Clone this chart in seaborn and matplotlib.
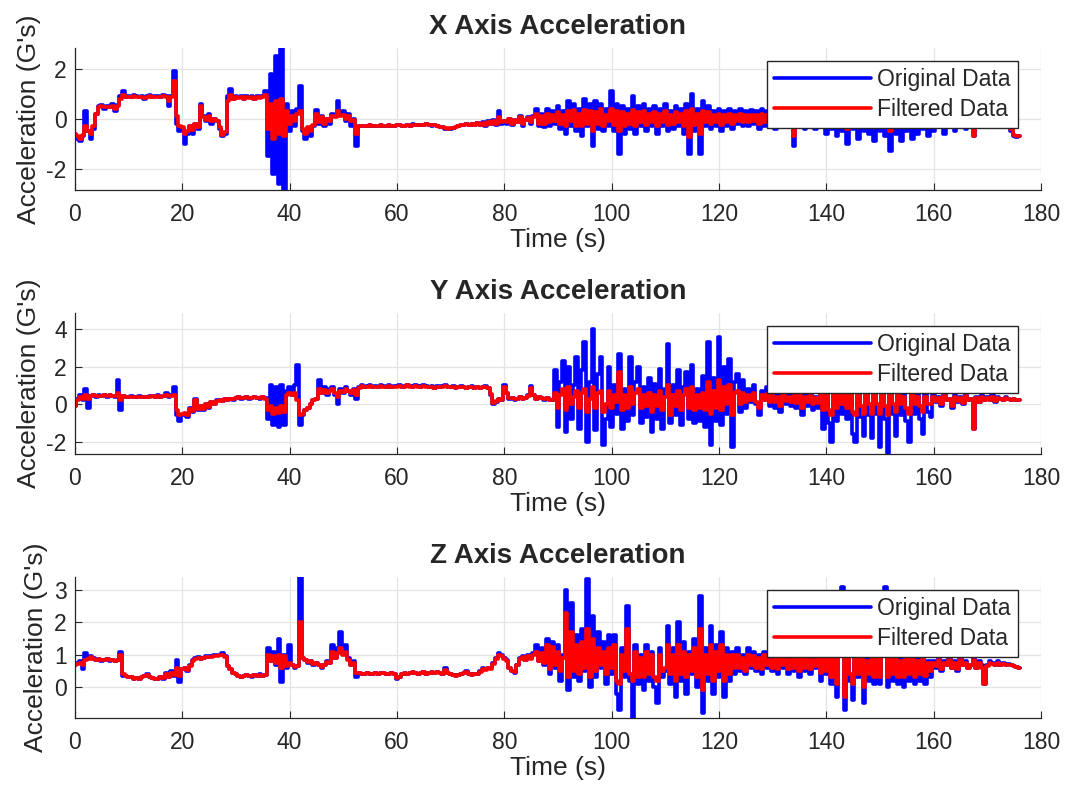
import numpy as np
import pandas as pd
import seaborn as sns
import matplotlib.pyplot as plt

# one reading every 0.5 s, 0 .. 176 s
time_s = np.arange(0, 176.01, 0.5)

# X axis (G's), one row per 10 s
x_orig = [
    -0.6, -0.8, -0.9, -0.7, 0.3, -0.5, -0.8, -0.4, 0.2, 0.5, 0.55, 0.4, 0.5, 0.45, 0.6, 0.3, 0.55, 0.9, 1.1, 0.85,
    0.9, 0.85, 0.95, 0.9, 0.85, 0.9, 0.8, 0.9, 0.95, 0.85, 0.9, 0.9, 0.85, 0.95, 0.9, 0.5, 0.9, 1.9, -0.2, -0.5,
    -0.4, -1.0, -0.6, -0.3, -0.6, -0.2, -0.4, 0.6, 0.1, -0.1, 0.2, -0.2, 0.0, -0.1, -0.4, -0.7, -0.6, 0.9, 1.2, 0.8,
    0.9, 0.85, 0.9, 0.8, 0.9, 0.85, 0.9, 0.8, 0.9, 0.85, 0.9, 1.1, -1.5, 1.8, -2.2, 2.5, -2.6, 2.85, -2.85, 0.6,
    -0.5, 0.3, -0.3, 0.4, 1.3, -0.5, -0.8, -0.4, -0.7, -0.3, 0.35, -0.2, 0.1, -0.3, 0.0, -0.2, 0.2, 0.1, 0.7, 0.2,
    0.3, -0.1, 0.2, -0.3, 0.0, -1.1, -0.3, -0.3, -0.28, -0.3, -0.27, -0.3, -0.28, -0.3, -0.25, -0.3, -0.28, -0.26, -0.3, -0.28,
    -0.27, -0.25, -0.28, -0.3, -0.25, -0.28, -0.22, -0.25, -0.27, -0.24, -0.25, -0.22, -0.26, -0.28, -0.25, -0.3, -0.32, -0.35, -0.4, -0.42,
    -0.4, -0.38, -0.32, -0.28, -0.25, -0.27, -0.22, -0.25, -0.2, -0.24, -0.18, -0.25, -0.15, -0.3, -0.1, -0.2, -0.05, -0.25, 0.3, -0.2,
    -0.1, -0.2, 0.0, -0.25, -0.05, -0.15, 0.1, -0.3, -0.05, 0.05, -0.2, 0.1, 0.4, -0.3, 0.2, -0.35, 0.4, -0.3, 0.3, -0.2,
    0.5, -0.4, 0.3, -0.6, 0.7, -0.3, 0.6, -0.5, 0.4, -0.7, 0.8, -0.3, 0.6, -1.1, 0.7, -0.4, 0.6, -0.5, 0.4, -0.3,
    1.1, -0.5, 0.6, -1.4, 0.5, -0.6, 0.4, -0.4, 0.9, -0.6, 0.5, -0.3, 0.6, -0.5, 0.4, -0.3, 0.5, -0.6, 0.4, -0.3,
    0.6, -0.5, 0.3, -0.4, 0.5, -0.3, 0.4, -0.6, 0.6, -1.4, 1.0, -0.5, 0.4, -1.4, 0.7, -0.3, 0.5, -0.4, 0.3, -0.3,
    0.4, -0.5, 0.3, -0.3, 0.4, -0.4, 0.3, -0.2, 0.4, -0.3, 0.3, -0.3, 0.35, -0.2, 0.3, -0.4, 0.4, -0.3, 0.3, -0.2,
    0.3, -0.4, 0.2, -0.3, 0.3, -0.3, 0.2, -0.3, -1.1, 0.3, -0.3, 0.2, -0.4, 0.3, -0.3, 0.2, -0.4, 0.3, -0.3, 0.2,
    -0.6, 0.3, -0.4, 0.2, -0.7, 0.3, -0.5, 0.2, -1.0, 0.3, -0.4, 0.2, -0.8, 0.3, -0.5, 0.2, -0.6, 0.3, -0.9, 0.2,
    -0.5, 0.3, -0.7, 0.2, -1.3, 0.3, -0.6, 0.2, -0.9, 0.3, -0.5, 0.2, -0.8, 0.3, -0.6, 0.2, -0.4, 0.3, -0.7, 0.2,
    -0.5, 0.2, -0.3, 0.1, -0.6, 0.2, -0.3, 0.1, -0.5, 0.2, -0.3, 0.1, -0.4, 0.2, -0.3, -0.7, 0.1, -0.3, 0.1, -0.2,
    -0.1, 0.0, -0.2, 0.0, -0.1, -0.2, -0.1, -0.3, -0.2, -0.5, -0.7, -0.75, -0.7,
]
x_filt = [
    -0.6, -0.7, -0.8, -0.65, -0.3, -0.5, -0.6, -0.3, 0.2, 0.45, 0.5, 0.45, 0.48, 0.45, 0.5, 0.4, 0.5, 0.8, 0.95, 0.85,
    0.88, 0.85, 0.9, 0.88, 0.85, 0.88, 0.82, 0.88, 0.9, 0.85, 0.88, 0.88, 0.85, 0.9, 0.88, 0.7, 0.85, 1.5, 0.1, -0.3,
    -0.35, -0.6, -0.5, -0.3, -0.45, -0.2, -0.35, 0.5, 0.05, -0.05, 0.1, -0.1, 0.0, -0.1, -0.35, -0.65, -0.55, 0.7, 0.95, 0.8,
    0.85, 0.83, 0.87, 0.8, 0.87, 0.83, 0.87, 0.8, 0.87, 0.83, 0.87, 0.95, -0.4, 0.6, -0.8, 0.7, -0.6, 0.8, -0.7, 0.3,
    -0.2, 0.1, -0.1, 0.2, 0.3, -0.4, -0.6, -0.35, -0.5, -0.25, 0.2, -0.15, 0.05, -0.2, 0.0, -0.1, 0.1, 0.05, 0.3, 0.1,
    0.15, 0.0, 0.1, -0.1, -0.05, -0.6, -0.3, -0.3, -0.28, -0.3, -0.27, -0.29, -0.28, -0.3, -0.26, -0.29, -0.28, -0.27, -0.29, -0.28,
    -0.27, -0.26, -0.28, -0.29, -0.26, -0.28, -0.24, -0.25, -0.27, -0.25, -0.25, -0.23, -0.26, -0.27, -0.26, -0.29, -0.32, -0.35, -0.38, -0.4,
    -0.38, -0.36, -0.32, -0.28, -0.26, -0.27, -0.23, -0.25, -0.21, -0.24, -0.19, -0.24, -0.16, -0.26, -0.12, -0.2, -0.1, -0.2, 0.05, -0.15,
    -0.1, -0.15, -0.02, -0.2, -0.05, -0.12, 0.05, -0.2, -0.05, 0.02, -0.15, 0.05, 0.2, -0.2, 0.1, -0.2, 0.2, -0.15, 0.15, -0.1,
    0.25, -0.2, 0.15, -0.3, 0.3, -0.1, 0.35, -0.3, 0.2, -0.3, 0.35, -0.2, 0.3, -0.5, 0.25, -0.2, 0.4, -0.3, 0.15, -0.1,
    0.4, -0.25, 0.3, -0.5, 0.25, -0.3, 0.2, -0.2, 0.35, -0.3, 0.25, -0.15, 0.3, -0.25, 0.2, -0.15, 0.25, -0.3, 0.2, -0.15,
    0.3, -0.25, 0.15, -0.2, 0.25, -0.15, 0.2, -0.3, 0.3, -0.75, 0.4, -0.25, 0.2, -0.6, 0.3, -0.15, 0.25, -0.2, 0.15, -0.15,
    0.2, -0.25, 0.15, -0.15, 0.2, -0.2, 0.15, -0.1, 0.2, -0.15, 0.15, -0.15, 0.15, -0.1, 0.15, -0.2, 0.2, -0.15, 0.15, -0.1,
    0.15, -0.2, 0.1, -0.15, 0.15, -0.15, 0.1, -0.15, -0.7, 0.1, -0.15, 0.1, -0.2, 0.15, -0.15, 0.1, -0.2, 0.15, -0.15, 0.1,
    -0.25, 0.15, -0.2, 0.1, -0.3, 0.15, -0.2, 0.1, -0.4, 0.15, -0.2, 0.1, -0.35, 0.15, -0.2, 0.1, -0.25, 0.15, -0.35, 0.1,
    -0.2, 0.15, -0.3, 0.1, -0.5, 0.15, -0.25, 0.1, -0.35, 0.15, -0.2, 0.1, -0.3, 0.15, -0.25, 0.1, -0.2, 0.15, -0.3, 0.1,
    -0.2, 0.1, -0.15, 0.05, -0.25, 0.1, -0.15, 0.05, -0.2, 0.1, -0.15, 0.05, -0.2, 0.1, -0.15, -0.7, 0.0, -0.15, 0.05, -0.1,
    -0.05, 0.0, -0.1, 0.0, -0.05, -0.1, -0.05, -0.2, -0.15, -0.4, -0.65, -0.7, -0.7,
]

# Y axis (G's)
y_orig = [
    -0.1, 0.3, 0.5, 0.2, 0.8, -0.2, 0.45, 0.5, 0.4, 0.5, 0.45, 0.5, 0.4, 0.5, 0.45, 0.4, 1.3, -0.3, 0.45, 0.4,
    0.4, 0.42, 0.38, 0.4, 0.42, 0.4, 0.38, 0.4, 0.42, 0.45, 0.4, 0.5, 0.4, 0.45, 0.6, 0.4, 0.5, 0.9, -0.6, -0.9,
    -0.6, -0.5, -0.7, -0.2, -0.4, 0.3, -0.3, -0.1, -0.3, 0.0, -0.2, 0.1, 0.0, 0.2, 0.25, 0.15, 0.3, 0.2, 0.3, 0.25,
    0.35, 0.4, 0.3, 0.35, 0.4, 0.3, 0.35, 0.4, 0.35, 0.3, 0.4, 0.35, -0.8, 1.0, -1.1, 0.9, -1.2, 1.0, -1.1, 0.7,
    0.9, 0.5, 1.0, 2.1, -1.1, -0.6, -0.3, -0.2, 0.0, 0.2, 0.3, 1.3, 0.6, 0.9, 0.5, 0.8, 0.9, 0.5, 0.0, 0.8,
    0.6, 0.9, 0.7, 0.5, 0.8, 0.3, 0.9, 1.0, 0.9, 0.95, 1.0, 0.92, 0.95, 0.9, 1.0, 0.95, 0.9, 1.0, 0.93, 0.95,
    0.95, 1.0, 0.9, 0.95, 1.05, 0.95, 0.9, 1.0, 0.95, 0.92, 1.0, 0.95, 0.9, 0.95, 0.85, 0.95, 0.9, 0.95, 1.0, 0.9,
    0.9, 0.95, 0.85, 0.9, 0.95, 0.9, 0.85, 0.9, 0.95, 0.85, 0.9, 0.85, 0.9, 0.95, 0.85, 0.5, 0.0, 0.1, 0.3, 0.2,
    1.0, 0.6, 0.3, 0.35, 0.25, 0.3, 0.4, 0.3, 0.35, 0.5, 0.95, 0.5, 0.3, 0.4, 0.35, 0.25, 0.35, 0.2, 0.2, 1.8,
    -1.2, 1.2, 2.3, -1.5, 2.0, -0.8, 1.0, 2.5, -1.3, 1.8, 3.3, -2.0, 1.2, 4.0, -1.4, 1.6, 2.5, -2.2, -0.8, 2.0,
    -1.2, 1.0, -0.5, 2.7, -1.3, 0.8, -0.9, 2.5, -0.6, 1.2, 2.0, -1.0, 0.9, -0.7, 1.4, -1.5, 1.1, -0.8, 1.9, -1.3,
    0.8, 3.2, -1.0, 1.0, -0.6, 1.8, -1.1, 0.9, 1.7, -0.8, 2.1, -1.0, 0.8, -0.9, 1.5, -1.2, 3.3, -2.2, 1.4, -0.9,
    3.6, -1.1, 2.0, -0.5, 2.4, -2.3, 1.2, 1.6, -0.4, 1.3, -0.2, 0.8, 0.1, 1.0, 0.0, -0.6, 0.7, 0.2, 0.9, -0.1,
    0.6, -0.2, 0.5, -0.4, 0.7, 0.0, 0.5, -0.1, 0.6, -0.2, 0.8, -0.6, 0.5, -0.1, 0.6, -0.3, 0.4, -0.2, 0.7, -1.3,
    1.0, -1.0, -2.0, 0.8, -0.9, 1.2, -0.5, 0.9, -0.8, 1.1, -1.6, -2.0, 1.0, -0.7, -1.7, 0.9, -0.6, -1.8, 1.0, -0.5,
    -2.3, 1.0, -0.8, -2.6, 0.9, -0.5, -1.7, 1.1, -0.6, 0.8, -0.9, -2.0, 1.0, -0.5, 0.9, -0.8, -1.6, 0.7, -0.4, -0.7,
    0.5, 0.1, 0.4, -0.1, 0.6, 0.2, 0.3, -0.2, 0.5, 0.1, 0.4, 0.0, 0.6, 0.2, 0.3, -1.3, 0.4, 0.1, 0.5, 0.2,
    0.4, 0.2, 0.5, 0.1, 0.4, 0.3, 0.2, 0.4, 0.3, 0.25, 0.3, 0.2, 0.2,
]
y_filt = [
    -0.1, 0.2, 0.4, 0.3, 0.5, 0.3, 0.45, 0.48, 0.42, 0.45, 0.45, 0.48, 0.42, 0.47, 0.45, 0.42, 0.6, 0.2, 0.42, 0.4,
    0.4, 0.41, 0.39, 0.4, 0.41, 0.4, 0.39, 0.4, 0.41, 0.43, 0.4, 0.45, 0.4, 0.43, 0.5, 0.42, 0.45, 0.5, -0.3, -0.6,
    -0.55, -0.45, -0.6, -0.25, -0.35, 0.25, -0.25, -0.1, -0.25, 0.0, -0.15, 0.1, 0.0, 0.15, 0.22, 0.18, 0.28, 0.22, 0.3, 0.27,
    0.33, 0.37, 0.32, 0.35, 0.37, 0.32, 0.35, 0.37, 0.34, 0.32, 0.36, 0.3, -0.3, -0.1, -0.5, -0.2, -0.45, -0.1, -0.4, 0.5,
    0.6, 0.5, 0.6, 0.2, -0.6, -0.5, -0.3, -0.2, 0.0, 0.2, 0.3, 0.8, 0.6, 0.75, 0.6, 0.7, 0.8, 0.6, 0.4, 0.7,
    0.65, 0.8, 0.7, 0.6, 0.75, 0.5, 0.85, 0.95, 0.9, 0.93, 0.97, 0.92, 0.94, 0.9, 0.97, 0.94, 0.91, 0.97, 0.93, 0.94,
    0.94, 0.97, 0.91, 0.94, 1.0, 0.94, 0.91, 0.97, 0.94, 0.92, 0.97, 0.94, 0.91, 0.94, 0.88, 0.93, 0.9, 0.94, 0.97, 0.9,
    0.9, 0.93, 0.87, 0.9, 0.93, 0.9, 0.87, 0.9, 0.93, 0.87, 0.9, 0.87, 0.9, 0.92, 0.86, 0.55, 0.05, 0.15, 0.3, 0.25,
    0.9, 0.6, 0.35, 0.35, 0.28, 0.3, 0.38, 0.3, 0.35, 0.45, 0.85, 0.5, 0.3, 0.38, 0.33, 0.27, 0.33, 0.22, 0.25, 0.6,
    -0.2, 0.5, 0.8, -0.3, 0.9, 0.0, 0.4, 0.7, -0.2, 0.6, 0.8, -0.4, 0.3, 0.9, -0.2, 0.6, 0.7, -0.4, 0.0, 0.7,
    -0.2, 0.5, 0.1, 1.7, -0.3, 0.5, -0.2, 0.9, 0.0, 0.6, 0.8, -0.2, 0.5, -0.1, 0.6, -0.4, 0.5, -0.1, 0.7, -0.3,
    0.4, 1.0, -0.6, 0.5, -0.1, 0.7, -0.3, 0.5, 0.8, -0.2, 0.9, -0.3, 0.5, -0.2, 0.6, -0.3, 1.2, -0.5, 0.7, -0.2,
    1.3, -0.3, 0.9, 0.0, 1.0, -0.6, 0.6, 0.7, 0.0, 0.6, 0.1, 0.5, 0.2, 0.6, 0.1, -0.2, 0.5, 0.25, 0.55, 0.1,
    0.45, 0.1, 0.4, -0.1, 0.5, 0.15, 0.4, 0.1, 0.45, 0.05, 0.5, -0.2, 0.4, 0.1, 0.45, 0.0, 0.35, 0.05, 0.5, -0.3,
    0.6, -0.3, -0.6, 0.5, -0.2, 0.6, 0.0, 0.5, -0.2, 0.6, -0.4, -0.6, 0.5, -0.1, -0.5, 0.5, 0.0, -0.5, 0.5, 0.0,
    -0.5, 0.5, -0.1, -0.6, 0.5, 0.0, -0.4, 0.5, 0.0, 0.4, -0.2, -0.5, 0.5, 0.0, 0.4, -0.1, -0.4, 0.4, 0.0, 0.0,
    0.4, 0.15, 0.35, 0.0, 0.45, 0.2, 0.3, -0.1, 0.4, 0.15, 0.35, 0.05, 0.45, 0.2, 0.3, -1.3, 0.35, 0.1, 0.4, 0.2,
    0.35, 0.2, 0.4, 0.15, 0.35, 0.3, 0.2, 0.35, 0.3, 0.25, 0.28, 0.2, 0.2,
]

# Z axis (G's)
z_orig = [
    0.7, 0.75, 0.8, 0.55, 1.05, 0.9, 0.95, 0.9, 0.85, 0.88, 0.82, 0.85, 0.88, 0.82, 0.85, 0.8, 0.85, 1.1, 0.35, 0.35,
    0.3, 0.3, 0.25, 0.28, 0.25, 0.3, 0.35, 0.4, 0.3, 0.28, 0.25, 0.25, 0.3, 0.25, 0.45, 0.3, 0.5, 0.35, 0.85, 0.15,
    0.55, 0.6, 0.5, 0.7, 0.85, 0.9, 0.92, 0.88, 0.9, 0.95, 0.92, 0.95, 1.0, 0.98, 1.0, 1.05, 0.95, 0.65, 0.55, 0.45,
    0.4, 0.35, 0.3, 0.35, 0.38, 0.35, 0.33, 0.38, 0.35, 0.4, 0.35, 0.38, 1.2, 0.8, 1.1, 0.7, 1.5, 0.15, 1.0, 0.6,
    1.3, 0.7, 0.6, 0.65, 3.4, 0.9, 0.85, 0.75, 0.8, 0.7, 0.75, 0.7, 0.6, 0.7, 0.8, 0.75, 1.3, 0.9, 1.2, 1.7,
    1.1, 1.3, 0.9, 0.7, 0.8, 0.3, 0.45, 0.4, 0.42, 0.45, 0.4, 0.42, 0.45, 0.4, 0.43, 0.45, 0.42, 0.4, 0.45, 0.42,
    0.25, 0.3, 0.4, 0.45, 0.42, 0.45, 0.48, 0.45, 0.42, 0.45, 0.48, 0.42, 0.45, 0.47, 0.43, 0.48, 0.45, 0.42, 0.6, 0.45,
    0.4, 0.38, 0.35, 0.38, 0.42, 0.45, 0.5, 0.42, 0.38, 0.4, 0.42, 0.5, 0.6, 0.55, 0.6, 0.58, 0.75, 0.9, 1.05, 1.0,
    0.9, 0.85, 0.6, 0.5, 0.45, 0.7, 0.9, 0.95, 0.85, 1.0, 0.9, 1.05, 1.3, 0.8, 1.2, 0.7, 1.5, 0.4, 1.4, 0.6,
    1.3, 0.2, 1.0, 3.0, -0.1, 2.6, 0.3, 1.6, 0.2, 1.8, 0.5, 3.35, 0.0, 2.2, 0.3, 1.7, 0.6, 1.4, 0.1, 1.6,
    0.4, 1.6, -0.2, -0.7, 1.2, 0.3, 2.5, 0.2, -1.0, 1.3, 0.1, 1.0, -0.1, 1.3, 0.2, 1.1, 0.0, -0.5, 1.2, 0.3,
    0.5, 1.9, 0.1, 1.2, -0.3, 2.0, 0.2, 1.4, -0.2, 1.1, 0.4, 1.5, 0.0, 2.8, -0.8, 1.2, 0.2, 1.9, -0.2, 1.3,
    0.3, 1.7, -0.3, 1.2, 0.2, 1.1, 0.4, 1.2, 0.5, 1.0, 0.4, 1.2, 0.6, 1.1, 0.5, 1.0, 0.4, 1.1, 0.6, 0.9,
    0.5, 1.0, 0.4, 1.1, 0.6, 1.2, 0.4, 0.9, 0.5, 1.1, 0.3, 1.0, 0.5, 1.2, 0.4, 0.9, 0.6, 1.1, 0.2, 1.0,
    0.4, 1.2, 0.1, 1.0, -0.3, 1.3, 3.1, -0.7, 1.1, 0.2, -0.4, 1.0, 0.3, 1.2, -0.5, 0.9, 0.2, 1.1, 0.1, 1.0,
    0.1, 1.1, 3.1, 0.0, 1.0, 0.2, 1.2, 0.1, 0.9, 0.0, 1.1, 0.2, 1.0, 0.1, 0.9, 0.2, 1.0, 0.1, 0.8, 0.3,
    0.8, 0.6, 0.9, 0.5, 0.8, 0.7, 0.9, 0.6, 0.8, 0.5, 0.9, 0.7, 0.8, 0.6, 0.7, 0.9, 0.6, 0.8, 0.7, 0.1,
    0.7, 0.8, 0.75, 0.7, 0.8, 0.7, 0.75, 0.7, 0.72, 0.68, 0.65, 0.62, 0.6,
]
z_filt = [
    0.7, 0.72, 0.75, 0.7, 0.85, 0.88, 0.92, 0.88, 0.85, 0.87, 0.83, 0.85, 0.87, 0.83, 0.85, 0.82, 0.85, 1.0, 0.4, 0.35,
    0.3, 0.3, 0.26, 0.28, 0.26, 0.3, 0.34, 0.38, 0.31, 0.28, 0.26, 0.26, 0.3, 0.27, 0.4, 0.32, 0.45, 0.38, 0.6, 0.35,
    0.55, 0.58, 0.52, 0.65, 0.82, 0.88, 0.9, 0.88, 0.9, 0.93, 0.92, 0.94, 0.97, 0.96, 0.98, 0.98, 0.93, 0.65, 0.55, 0.45,
    0.4, 0.35, 0.32, 0.35, 0.37, 0.35, 0.34, 0.37, 0.35, 0.38, 0.35, 0.38, 1.0, 0.8, 0.95, 0.75, 1.0, 0.6, 0.95, 0.65,
    0.75, 0.7, 0.62, 0.65, 2.0, 0.9, 0.85, 0.78, 0.8, 0.72, 0.75, 0.7, 0.62, 0.7, 0.78, 0.75, 1.1, 0.9, 1.05, 1.2,
    1.0, 1.1, 0.85, 0.7, 0.75, 0.45, 0.45, 0.4, 0.42, 0.44, 0.41, 0.42, 0.44, 0.41, 0.43, 0.44, 0.42, 0.41, 0.44, 0.42,
    0.28, 0.32, 0.4, 0.44, 0.42, 0.44, 0.46, 0.44, 0.42, 0.44, 0.46, 0.42, 0.44, 0.46, 0.43, 0.46, 0.44, 0.42, 0.52, 0.45,
    0.4, 0.38, 0.36, 0.38, 0.41, 0.44, 0.48, 0.42, 0.39, 0.4, 0.42, 0.48, 0.56, 0.54, 0.58, 0.57, 0.72, 0.88, 1.0, 0.97,
    0.88, 0.82, 0.6, 0.5, 0.48, 0.7, 0.88, 0.92, 0.85, 0.95, 0.88, 1.0, 1.1, 0.8, 1.05, 0.75, 1.3, 0.55, 1.25, 0.7,
    1.1, 0.5, 0.9, 2.3, 0.3, 1.7, 0.5, 1.3, 0.4, 1.4, 0.6, 1.8, 0.3, 1.5, 0.5, 1.2, 0.7, 1.1, 0.4, 1.2,
    0.6, 1.3, 0.2, 0.1, 1.0, 0.5, 1.8, 0.4, 0.2, 1.1, 0.3, 0.9, 0.3, 1.1, 0.4, 1.0, 0.3, 0.2, 1.0, 0.5,
    0.6, 1.3, 0.4, 1.0, 0.2, 1.3, 0.4, 1.1, 0.3, 1.0, 0.5, 1.2, 0.3, 1.8, -0.1, 1.0, 0.4, 1.3, 0.2, 1.1,
    0.5, 1.3, 0.2, 1.0, 0.4, 1.0, 0.6, 1.0, 0.6, 0.9, 0.5, 1.0, 0.7, 0.95, 0.6, 0.9, 0.55, 1.0, 0.7, 0.85,
    0.6, 0.9, 0.55, 0.95, 0.7, 1.0, 0.55, 0.85, 0.6, 0.95, 0.5, 0.9, 0.6, 1.0, 0.55, 0.85, 0.65, 0.95, 0.45, 0.9,
    0.5, 1.0, 0.3, 0.9, 0.1, 1.0, 1.6, -0.3, 0.9, 0.4, 0.1, 0.9, 0.4, 1.0, 0.0, 0.8, 0.4, 0.9, 0.3, 0.9,
    0.3, 1.0, 1.7, 0.3, 0.9, 0.4, 1.0, 0.3, 0.8, 0.3, 0.9, 0.4, 0.9, 0.3, 0.8, 0.4, 0.9, 0.35, 0.75, 0.5,
    0.75, 0.65, 0.85, 0.55, 0.75, 0.7, 0.85, 0.6, 0.75, 0.55, 0.85, 0.7, 0.75, 0.6, 0.7, 0.85, 0.6, 0.75, 0.6, 0.1,
    0.65, 0.75, 0.72, 0.7, 0.75, 0.7, 0.72, 0.7, 0.7, 0.67, 0.64, 0.62, 0.6,
]

titles = ["X Axis Acceleration", "Y Axis Acceleration", "Z Axis Acceleration"]
y_limits = [(-2.86, 2.82), (-2.66, 4.87), (-0.95, 3.4)]
y_ticks = [[-2, 0, 2], [-2, 0, 2, 4], [0, 1, 2, 3]]
x_ticks = list(range(0, 181, 20))

df = pd.DataFrame({
    "time": np.tile(time_s, 3),
    "axis": np.repeat(["X", "Y", "Z"], len(time_s)),
    "original": x_orig + y_orig + z_orig,
    "filtered": x_filt + y_filt + z_filt,
})

sns.set_style("whitegrid", {
    "axes.edgecolor": "#262626",
    "grid.color": "#e4e4e4",
    "xtick.direction": "in",
    "ytick.direction": "in",
    "xtick.bottom": True,
    "ytick.left": True,
    "axes.spines.top": False,
    "axes.spines.right": False,
})
plt.rcParams["font.family"] = ["Liberation Sans", "DejaVu Sans"]
plt.rcParams["axes.unicode_minus"] = False

fig = plt.figure(figsize=(10.68, 7.94), dpi=100)

# axes boxes [left, bottom, width, height] in figure fractions
boxes = [[0.0702, 0.7607, 0.9045, 0.1788],
         [0.0702, 0.4282, 0.9045, 0.1776],
         [0.0702, 0.0957, 0.9045, 0.1776]]

for i, name in enumerate(["X", "Y", "Z"]):
    ax = fig.add_axes(boxes[i])
    d = df[df["axis"] == name]
    # thick stepped lines give the blocky look of densely sampled data
    sns.lineplot(data=d, x="time", y="original", ax=ax, color=(0, 0, 1),
                 linewidth=2.6, label="Original Data", estimator=None,
                 sort=False, drawstyle="steps-mid")
    sns.lineplot(data=d, x="time", y="filtered", ax=ax, color=(1, 0, 0),
                 linewidth=2.6, label="Filtered Data", estimator=None,
                 sort=False, drawstyle="steps-mid")

    ax.set_xlim(0, 180)
    ax.set_ylim(*y_limits[i])
    ax.set_xticks(x_ticks)
    ax.set_yticks(y_ticks[i])
    ax.grid(True, color="#e4e4e4", linewidth=0.9)
    ax.set_axisbelow(True)
    for s in ["left", "bottom"]:
        ax.spines[s].set_linewidth(0.9)
    ax.tick_params(axis="both", labelsize=16.5, colors="#262626",
                   length=5, width=0.8)
    ax.tick_params(axis="x", pad=9)
    ax.tick_params(axis="y", pad=6)

    ax.set_title(titles[i], fontsize=20, fontweight="bold", pad=10)
    ax.set_xlabel("Time (s)", fontsize=19, color="#262626", labelpad=2)
    ax.set_ylabel("Acceleration (G's)", fontsize=19, color="#262626", labelpad=4)

    leg = ax.legend(loc="upper right", bbox_to_anchor=(0.976, 0.908),
                    borderaxespad=0, fontsize=16.5, frameon=True, fancybox=False,
                    framealpha=1, edgecolor="#262626", handlelength=4.2,
                    handletextpad=0.3, borderpad=0.3, labelspacing=0.3)
    leg.get_frame().set_linewidth(1.0)

fig.savefig("out.png", dpi=100)
